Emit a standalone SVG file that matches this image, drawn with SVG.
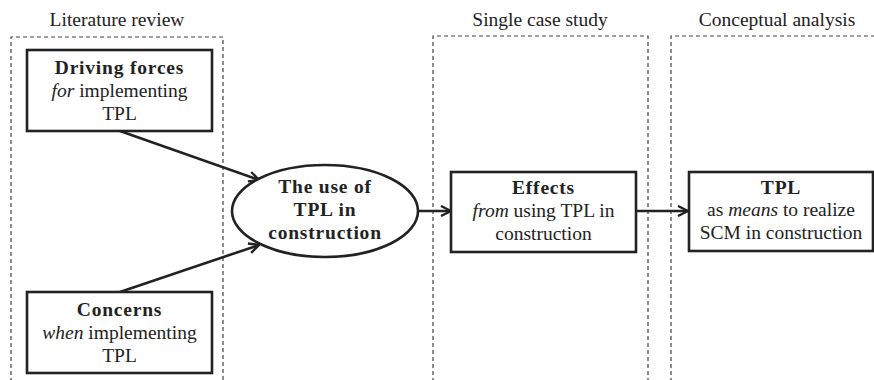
<svg xmlns="http://www.w3.org/2000/svg" width="874" height="380" viewBox="0 0 874 380">
<defs>
<style>
text{font-family:"Liberation Serif","Times New Roman",serif;font-size:19.5px;fill:#222;text-anchor:middle}
.b{font-weight:bold;letter-spacing:0.8px}
.i{font-style:italic}
.frame{fill:none;stroke:#444;stroke-width:1.2;stroke-dasharray:4 3}
.node{fill:#fff;stroke:#222;stroke-width:2.6}
.conn{fill:none;stroke:#222;stroke-width:2.6;marker-end:url(#arr)}
</style>
<marker id="arr" viewBox="0 0 12 12" refX="11" refY="6" markerWidth="12" markerHeight="12" markerUnits="userSpaceOnUse" orient="auto">
<path d="M1,1 L11,6 L1,11" fill="none" stroke="#222" stroke-width="2.4"/>
</marker>
</defs>
<g id="frames">
<path class="frame" d="M11,382 V37 H223 V382"/>
<path class="frame" d="M433,382 V36 H648 V382"/>
<path class="frame" d="M671,382 V36 H880"/>
<text x="117" y="26">Literature review</text>
<text x="540" y="26">Single case study</text>
<text x="777" y="26">Conceptual analysis</text>
</g>
<g id="connectors">
<line class="conn" x1="120" y1="131" x2="259" y2="180"/>
<line class="conn" x1="120" y1="292" x2="259" y2="245"/>
<line class="conn" x1="418" y1="211" x2="451" y2="211"/>
<line class="conn" x1="636" y1="211" x2="688" y2="211"/>
</g>
<g id="driving">
<rect class="node" x="27" y="50" width="185" height="81"/>
<text class="b" x="119.5" y="74">Driving forces</text>
<text x="119.5" y="97"><tspan class="i">for</tspan> implementing</text>
<text x="119.5" y="120">TPL</text>
</g>
<g id="concerns">
<rect class="node" x="27" y="292" width="185" height="81"/>
<text class="b" x="119.5" y="316">Concerns</text>
<text x="119.5" y="339"><tspan class="i">when</tspan> implementing</text>
<text x="119.5" y="362">TPL</text>
</g>
<g id="use">
<ellipse class="node" cx="325" cy="211" rx="93" ry="46"/>
<text class="b" x="325" y="193">The use of</text>
<text class="b" x="325" y="216">TPL in</text>
<text class="b" x="325" y="239">construction</text>
</g>
<g id="effects">
<rect class="node" x="451" y="172" width="185" height="80"/>
<text class="b" x="543.5" y="194">Effects</text>
<text x="543.5" y="217"><tspan class="i">from</tspan> using TPL in</text>
<text x="543.5" y="240">construction</text>
</g>
<g id="tpl">
<rect class="node" x="689" y="172" width="184" height="79"/>
<text class="b" x="781" y="194">TPL</text>
<text x="781" y="216">as <tspan class="i">means</tspan> to realize</text>
<text x="781" y="239">SCM in construction</text>
</g>
</svg>
